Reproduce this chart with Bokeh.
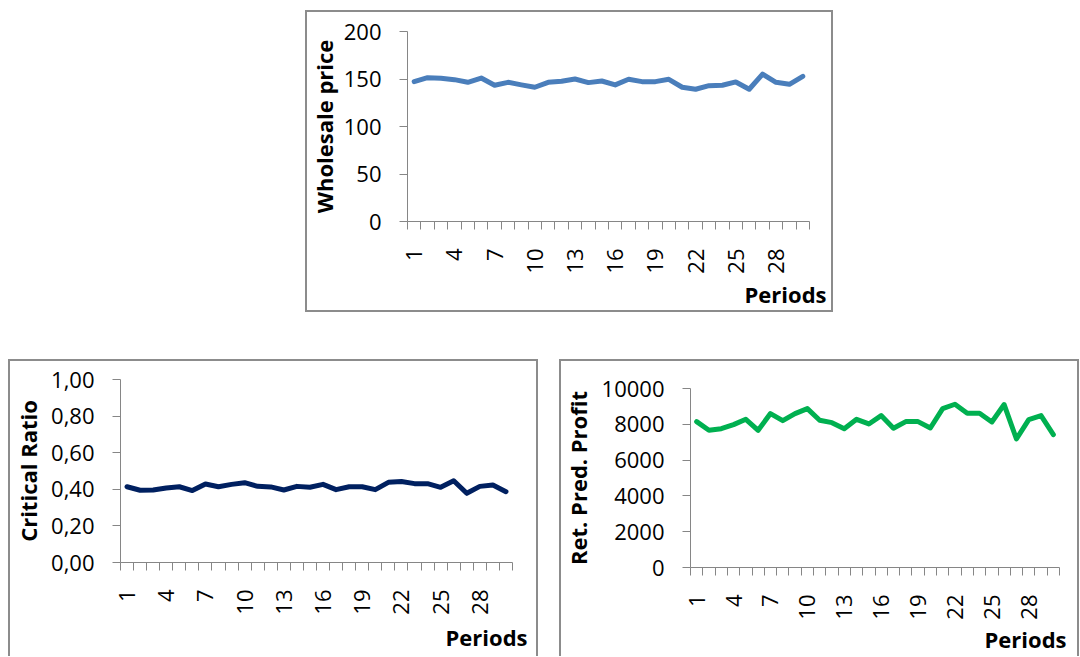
import math
from bokeh.plotting import figure
from bokeh.models import Range1d, FixedTicker, CustomJSTickFormatter, Title, Spacer
from bokeh.layouts import column, row
from bokeh.embed import file_html
from bokeh.resources import INLINE

# ---------------- data ----------------
periods = list(range(1, 31))
x_tick_labels = [1, 4, 7, 10, 13, 16, 19, 22, 25, 28]

wholesale_price = [147.2, 151.4, 150.7, 149.3, 146.5, 151.0, 143.4, 146.5, 143.8, 141.3,
                   146.5, 147.6, 150.0, 146.2, 147.9, 143.8, 149.7, 147.2, 147.2, 149.7,
                   141.3, 139.2, 143.0, 143.4, 146.9, 139.2, 155.2, 146.5, 144.4, 152.8]
critical_ratio = [0.414, 0.395, 0.396, 0.407, 0.414, 0.393, 0.429, 0.414, 0.427, 0.436,
                  0.416, 0.413, 0.396, 0.416, 0.411, 0.427, 0.398, 0.414, 0.414, 0.398,
                  0.438, 0.443, 0.431, 0.431, 0.411, 0.447, 0.378, 0.416, 0.424, 0.387]
ret_pred_profit = [8150, 7664, 7757, 7981, 8280, 7664, 8598, 8206, 8598, 8879,
                   8224, 8093, 7757, 8280, 8019, 8486, 7776, 8150, 8150, 7794,
                   8879, 9121, 8617, 8617, 8131, 9103, 7178, 8262, 8486, 7421]

wp_ticks = [0, 50, 100, 150, 200]
cr_ticks = [0.0, 0.2, 0.4, 0.6, 0.8, 1.0]
rp_ticks = [0, 2000, 4000, 6000, 8000, 10000]

FONT = "Open Sans"
AXIS_COLOR = "#868686"
BOX = "#8c8c8c"
TICK_SIZE = "22px"
TITLE_SIZE = "22px"


def make_chart(width, height, mbl, mbr, mbt, mbb, yvals, yticks, ylabel, color,
               fmt_code, per_offset, per_standoff, ylab_standoff, shadow):
    p = figure(width=width, height=height,
               x_range=Range1d(periods[0] - 0.5, periods[-1] + 0.5),
               y_range=Range1d(yticks[0], yticks[-1]),
               output_backend="svg", toolbar_location=None,
               min_border_left=mbl, min_border_right=mbr,
               min_border_top=mbt, min_border_bottom=mbb)
    p.line(periods, yvals, line_width=5, color=color,
           line_join="round", line_cap="round")
    p.grid.visible = False
    p.outline_line_color = None
    p.border_fill_color = None
    p.background_fill_color = "white"
    p.styles = {"box-shadow": shadow}

    xa = p.xaxis[0]
    bounds = [v - 0.5 for v in periods] + [periods[-1] + 0.5]
    xa.ticker = FixedTicker(ticks=x_tick_labels, minor_ticks=bounds)
    xa.axis_line_color = AXIS_COLOR
    xa.axis_line_width = 1
    xa.major_tick_out = 0
    xa.major_tick_in = 0
    xa.minor_tick_out = 8
    xa.minor_tick_in = 0
    xa.minor_tick_line_color = AXIS_COLOR
    xa.major_label_orientation = math.pi / 2
    xa.major_label_standoff = 19
    xa.major_label_text_font = FONT
    xa.major_label_text_font_size = TICK_SIZE
    xa.major_label_text_color = "black"

    ya = p.yaxis[0]
    ya.ticker = FixedTicker(ticks=yticks, minor_ticks=[])
    ya.axis_line_color = AXIS_COLOR
    ya.major_tick_line_color = AXIS_COLOR
    ya.major_tick_out = 8
    ya.major_tick_in = 0
    ya.minor_tick_line_color = None
    ya.major_label_standoff = 18
    ya.major_label_text_font = FONT
    ya.major_label_text_font_size = TICK_SIZE
    ya.major_label_text_color = "black"
    if fmt_code:
        ya.formatter = CustomJSTickFormatter(code=fmt_code)
    ya.axis_label = ylabel
    ya.axis_label_text_font = FONT
    ya.axis_label_text_font_style = "bold"
    ya.axis_label_text_font_size = TITLE_SIZE
    ya.axis_label_text_color = "black"
    ya.axis_label_standoff = ylab_standoff

    p.add_layout(Title(text="Periods", align="right", offset=per_offset,
                       standoff=per_standoff, text_font=FONT,
                       text_font_size=TITLE_SIZE, text_font_style="bold",
                       text_color="black"), "below")
    return p


full_box = f"inset 0 0 0 2px {BOX}"
open_box = f"inset 2px 2px 0 0 {BOX}, inset -2px 0 0 0 {BOX}"

p1 = make_chart(528, 302, 101, 24, 21, 91, wholesale_price, wp_ticks,
                "Wholesale price", "#4a7ebb", None, -17, 0, 2, full_box)
p2 = make_chart(530, 297, 112, 26, 20, 94, critical_ratio, cr_ticks,
                "Critical Ratio", "#002060",
                "return tick.toFixed(2).replace('.', ',');", -15, 4, 5, open_box)
p3 = make_chart(520, 297, 131, 20, 29, 89, ret_pred_profit, rp_ticks,
                "Ret. Pred. Profit", "#00b050", None, -7, -2, 6, open_box)

layout = column(
    Spacer(height=10),
    row(Spacer(width=305), p1),
    Spacer(height=47),
    row(Spacer(width=8), column(p2), Spacer(width=21), column(p3)),
)

open("out.html", "w").write(file_html(layout, INLINE))
